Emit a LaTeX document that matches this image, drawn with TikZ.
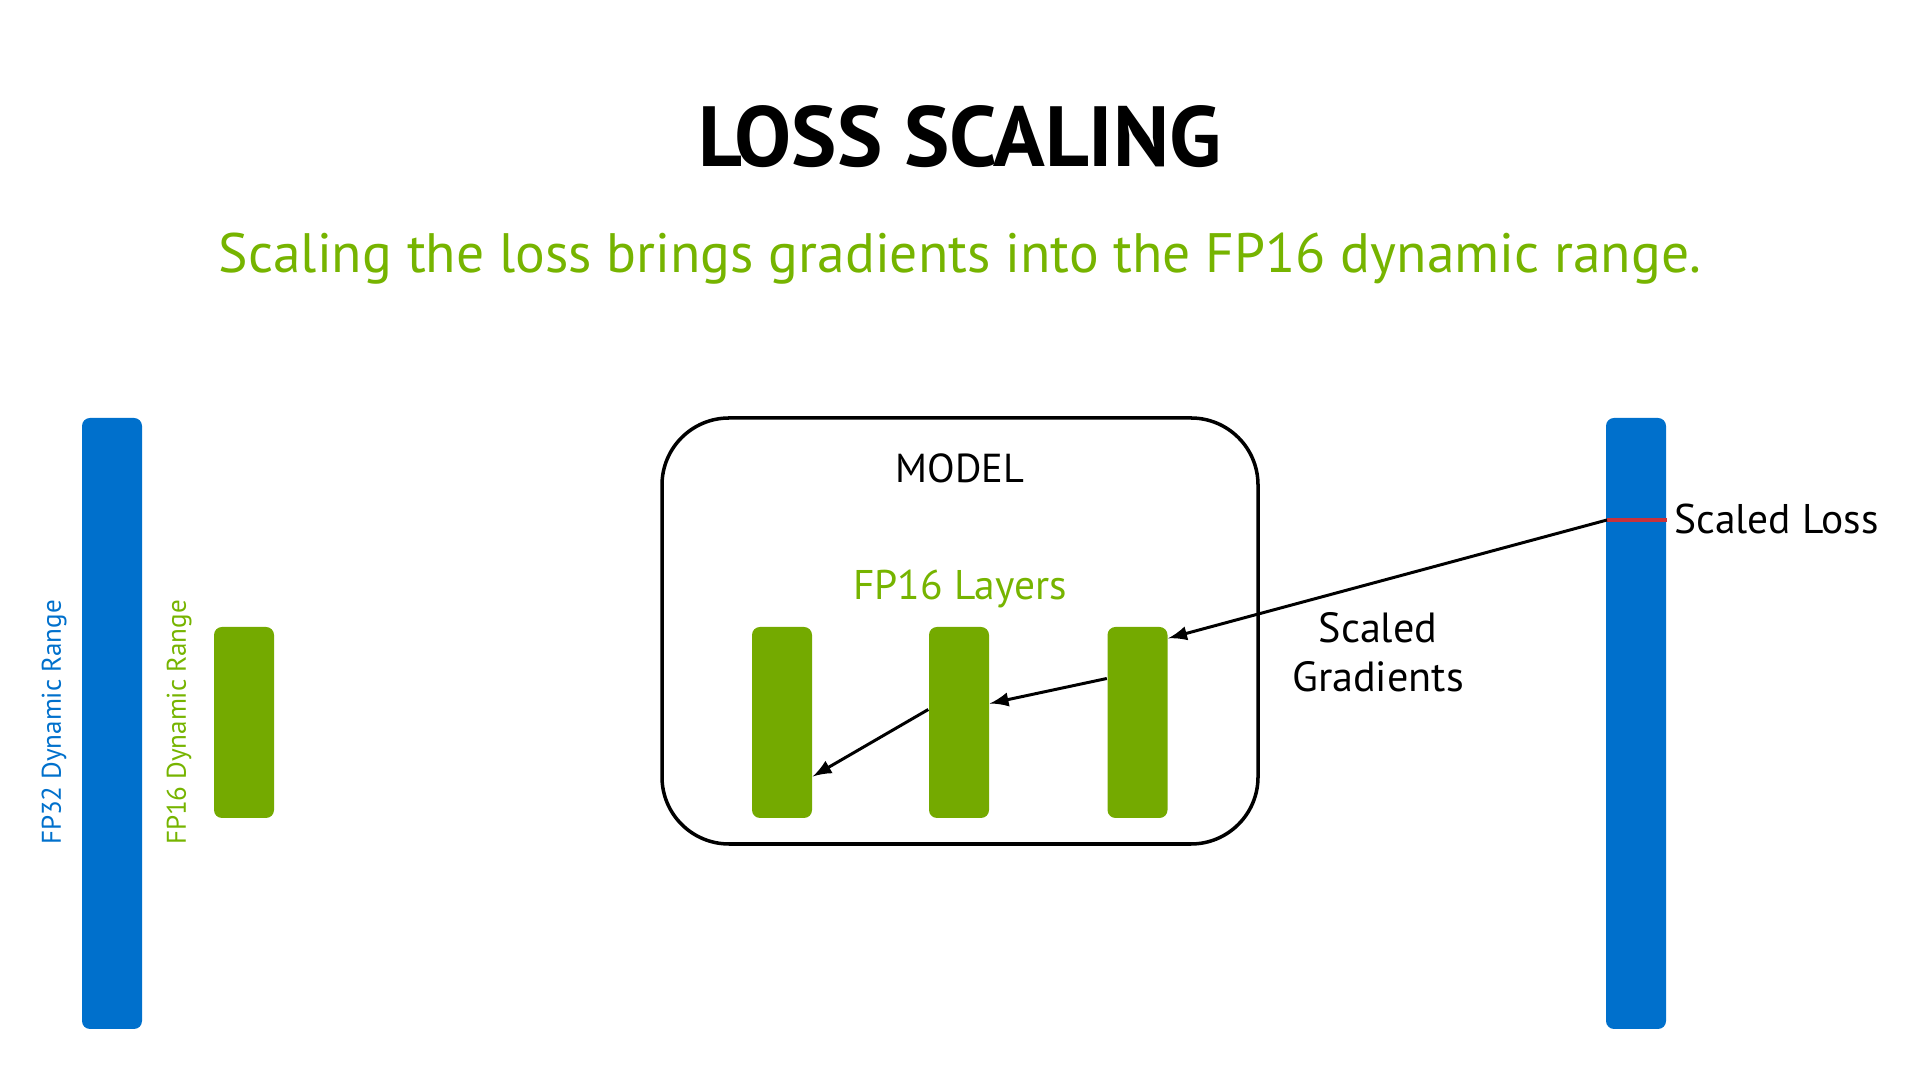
\documentclass[tikz,border=0pt]{standalone}
\usepackage{fontspec}
\setmainfont{PT Sans}
\definecolor{nvgreen}{RGB}{116,170,0}
\definecolor{nvtextgreen}{RGB}{118,180,0}
\definecolor{nvblue}{RGB}{0,112,204}
\definecolor{lossred}{RGB}{200,50,60}
\newcommand{\barw}{0.6cm}
\newcommand{\txt}[1]{\fontsize{#1}{#1}\selectfont}

\begin{document}
\begin{tikzpicture}
        \useasboundingbox (0,0) rectangle (19.2,10.8);
        \node[font=\txt{24.3}\bfseries] (title) at (9.6,9.43) {LOSS SCALING};
        \node[font=\txt{15.8},text=nvtextgreen] (sub) at (9.6,8.21) {Scaling the loss brings gradients into the FP16 dynamic range.};
        \node[fill=nvblue,rounded corners=0.08cm,minimum width=\barw,minimum height=6.11cm,inner sep=0] (fp32l) at (1.12,3.565) {};
        \node[rotate=90,font=\txt{7.7},text=nvblue] (fp32lbl) at (0.54,3.575) {FP32 Dynamic Range};
        \node[fill=nvgreen,rounded corners=0.08cm,minimum width=\barw,minimum height=1.91cm,inner sep=0] (fp16l) at (2.44,3.575) {};
        \node[rotate=90,font=\txt{7.7},text=nvtextgreen] (fp16lbl) at (1.79,3.575) {FP16 Dynamic Range};
        \node[draw,line width=1pt,rounded corners=0.67cm,minimum width=5.96cm,minimum height=4.26cm] (model) at (9.6,4.49) {};
        \node[font=\txt{11.5}] (modellbl) at (9.6,6.12) {MODEL};
        \node[font=\txt{11.8},text=nvtextgreen] (layerslbl) at (9.6,4.91) {FP16 Layers};
        \node[fill=nvgreen,rounded corners=0.08cm,minimum width=\barw,minimum height=1.91cm,inner sep=0] (l1) at (7.82,3.575) {};
        \node[fill=nvgreen,rounded corners=0.08cm,minimum width=\barw,minimum height=1.91cm,inner sep=0] (l2) at (9.59,3.575) {};
        \node[fill=nvgreen,rounded corners=0.08cm,minimum width=\barw,minimum height=1.91cm,inner sep=0] (l3) at (11.375,3.575) {};
        \node[fill=nvblue,rounded corners=0.08cm,minimum width=\barw,minimum height=6.11cm,inner sep=0] (fp32r) at (16.36,3.565) {};
        \coordinate (loss) at (16.07,5.60);
        \draw[lossred,line width=1.2pt] (loss) -- (loss -| fp32r.east);
        \node[anchor=west,font=\txt{11.8}] (losslbl) at (16.62,5.61) {Scaled Loss};
        \node[align=center,font=\txt{12}] (gradlbl) at (13.78,4.28) {Scaled\\[2pt] Gradients};
        \draw[->,>=latex,line width=0.85pt] (loss) -- ([yshift=-0.12cm]l3.north east);
        \draw[->,>=latex,line width=0.85pt] ([yshift=0.44cm]l3.west) -- ([yshift=0.19cm]l2.east);
        \draw[->,>=latex,line width=0.85pt] ([yshift=0.13cm]l2.west) -- ([yshift=-0.54cm]l1.east);
\end{tikzpicture}
\end{document}
